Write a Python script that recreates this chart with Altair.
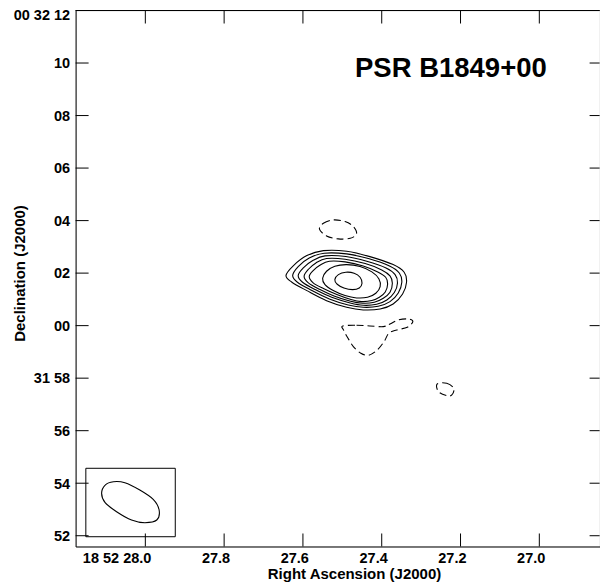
import altair as alt
import pandas as pd

# RA in seconds of 18h52m, Dec in arcsec relative to +00d32m00s
pos_ra = [
    [27.643, 27.624, 27.590, 27.548, 27.489, 27.430, 27.371, 27.343, 27.337, 27.347, 27.371, 27.404, 27.447, 27.489, 27.540, 27.590, 27.628],
    [27.626, 27.612, 27.584, 27.546, 27.489, 27.434, 27.379, 27.355, 27.349, 27.358, 27.379, 27.409, 27.447, 27.485, 27.533, 27.580, 27.614],
    [27.612, 27.599, 27.575, 27.544, 27.491, 27.438, 27.389, 27.366, 27.360, 27.368, 27.387, 27.413, 27.447, 27.480, 27.527, 27.569, 27.601],
    [27.597, 27.586, 27.567, 27.540, 27.493, 27.442, 27.400, 27.379, 27.373, 27.379, 27.396, 27.419, 27.448, 27.479, 27.521, 27.558, 27.587],
    [27.584, 27.574, 27.557, 27.533, 27.493, 27.447, 27.410, 27.390, 27.385, 27.391, 27.406, 27.425, 27.451, 27.478, 27.514, 27.548, 27.574],
    [27.550, 27.540, 27.519, 27.489, 27.455, 27.425, 27.407, 27.404, 27.415, 27.436, 27.464, 27.493, 27.523, 27.544],
    [27.519, 27.510, 27.491, 27.470, 27.455, 27.450, 27.457, 27.474, 27.496, 27.513],
]
pos_dec = [
    [1.905, 2.286, 2.667, 2.857, 2.834, 2.629, 2.324, 2.034, 1.653, 1.208, 0.827, 0.636, 0.598, 0.701, 0.952, 1.333, 1.653],
    [1.906, 2.249, 2.579, 2.757, 2.731, 2.554, 2.262, 1.995, 1.652, 1.246, 0.916, 0.738, 0.700, 0.789, 1.017, 1.360, 1.652],
    [1.906, 2.198, 2.477, 2.655, 2.630, 2.452, 2.198, 1.944, 1.627, 1.259, 0.979, 0.814, 0.776, 0.865, 1.080, 1.373, 1.652],
    [1.881, 2.147, 2.389, 2.554, 2.528, 2.363, 2.122, 1.893, 1.614, 1.271, 1.043, 0.890, 0.852, 0.928, 1.131, 1.385, 1.639],
    [1.868, 2.097, 2.300, 2.452, 2.427, 2.274, 2.046, 1.843, 1.589, 1.284, 1.080, 0.954, 0.916, 0.992, 1.182, 1.411, 1.627],
    [1.805, 2.071, 2.262, 2.325, 2.249, 2.046, 1.779, 1.487, 1.233, 1.080, 1.055, 1.144, 1.335, 1.563],
    [1.754, 1.944, 2.033, 1.995, 1.843, 1.614, 1.436, 1.373, 1.436, 1.576],
]
neg_ra = [
    [27.558, 27.548, 27.523, 27.493, 27.472, 27.464, 27.480, 27.510, 27.540],
    [27.499, 27.464, 27.430, 27.396, 27.379, 27.358, 27.332, 27.321, 27.335, 27.362, 27.382, 27.394, 27.413, 27.434, 27.453, 27.472, 27.487, 27.497],
    [27.259, 27.235, 27.217, 27.222, 27.235, 27.256],
]
neg_dec = [
    [3.671, 3.900, 4.027, 3.963, 3.773, 3.494, 3.328, 3.303, 3.417],
    [-0.011, 0.014, -0.011, -0.037, 0.065, 0.218, 0.256, 0.154, -0.062, -0.163, -0.290, -0.608, -0.951, -1.128, -1.052, -0.798, -0.443, -0.163],
    [-2.221, -2.194, -2.385, -2.640, -2.667, -2.514],
]
beam_ra = [28.111, 28.102, 28.081, 28.052, 28.014, 27.980, 27.965, 27.971, 28.001, 28.035, 28.073, 28.102]
beam_dec = [-6.386, -6.069, -5.942, -5.980, -6.259, -6.615, -7.021, -7.402, -7.503, -7.402, -7.084, -6.742]
box_ra = [28.151, 27.924]
box_dec = [-5.432, -8.038]

ra_ticks = [28.0, 27.8, 27.6, 27.4, 27.2, 27.0]
ra_labels = ["18 52 28.0", "27.8", "27.6", "27.4", "27.2", "27.0"]
dec_ticks = [12, 10, 8, 6, 4, 2, 0, -2, -4, -6, -8]
dec_labels = ["00 32 12", "10", "08", "06", "04", "02", "00", "31 58", "56", "54", "52"]
source_name = "PSR B1849+00"

W, H = 524, 536
FONT = "Liberation Sans"


def label_expr(vals, labs):
    expr = "''"
    for v, l in reversed(list(zip(vals, labs))):
        expr = f"(abs(datum.value - ({v})) < 0.001 ? '{l}' : {expr})"
    return expr


def contour_df(ras, decs, prefix):
    rows = []
    for i, (rr, dd) in enumerate(zip(ras, decs)):
        for j, (r, d) in enumerate(zip(rr, dd)):
            rows.append({"ra": r, "dec": d, "cid": f"{prefix}{i}", "k": j})
    return pd.DataFrame(rows)


pos_df = contour_df(pos_ra, pos_dec, "p")
neg_df = contour_df(neg_ra, neg_dec, "n")
beam_df = contour_df([beam_ra], [beam_dec], "b")
box_df = pd.DataFrame({"ra": [box_ra[0]], "ra2": [box_ra[1]], "dec": [box_dec[0]], "dec2": [box_dec[1]]})
rat_df = pd.DataFrame({"ra": ra_ticks})
dect_df = pd.DataFrame({"dec": dec_ticks})

x_axis = alt.Axis(
    values=ra_ticks, labelExpr=label_expr(ra_ticks, ra_labels), ticks=False, grid=False,
    domain=True, domainColor="black", domainWidth=1,
    labelFont=FONT, labelFontWeight="bold", labelFontSize=14.5, labelColor="black",
    labelAlign="right", labelOffset=5.5, labelPadding=5.5, labelFlush=False, labelOverlap=False, labelBound=False,
    title="Right Ascension (J2000)", titleFont=FONT, titleFontWeight="bold", titleFontSize=15,
    titleColor="black", titleX=278.4, titleY=32.5, titleAlign="center", titleBaseline="alphabetic",
)
y_axis = alt.Axis(
    values=dec_ticks, labelExpr=label_expr(dec_ticks, dec_labels), ticks=False, grid=False,
    domain=True, domainColor="black", domainWidth=1,
    labelFont=FONT, labelFontWeight="bold", labelFontSize=14.5, labelColor="black",
    labelPadding=6, labelFlush=False, labelOverlap=False, labelBound=False, labelBaseline="middle",
    labelOffset={"condition": {"test": "datum.value > 11", "value": 5.2}, "value": 0.8},
    title="Declination (J2000)", titleFont=FONT, titleFontWeight="bold", titleFontSize=15,
    titleColor="black", titleX=-50.6, titleY=262.5, titleAngle=270, titleAlign="center", titleBaseline="alphabetic",
)
xs = alt.Scale(domain=[26.847, 28.177], reverse=True, nice=False, zero=False)
ys = alt.Scale(domain=[-8.41, 12.0], nice=False, zero=False)
X = alt.X("ra:Q", scale=xs, axis=x_axis)
Y = alt.Y("dec:Q", scale=ys, axis=y_axis)

pos = alt.Chart(pos_df).mark_line(interpolate="cardinal-closed", color="black", strokeWidth=1.1).encode(
    x=X, y=Y, detail="cid:N", order="k:Q")
neg = alt.Chart(neg_df).mark_line(interpolate="cardinal-closed", color="black", strokeWidth=1.1,
                                  strokeDash=[7, 4]).encode(x=X, y=Y, detail="cid:N", order="k:Q")
beam = alt.Chart(beam_df).mark_line(interpolate="cardinal-closed", color="black", strokeWidth=1.1).encode(
    x=X, y=Y, detail="cid:N", order="k:Q")
box = alt.Chart(box_df).mark_rect(fillOpacity=0, stroke="black", strokeWidth=1).encode(
    x=X, x2="ra2:Q", y=Y, y2="dec2:Q")

tb = alt.Chart(rat_df).mark_rule(color="black", strokeWidth=1).encode(x=X, y=alt.value(H), y2=alt.value(H - 13))
tt = alt.Chart(rat_df).mark_rule(color="black", strokeWidth=1).encode(x=X, y=alt.value(0), y2=alt.value(13))
tl = alt.Chart(dect_df).mark_rule(color="black", strokeWidth=1).encode(y=Y, x=alt.value(0), x2=alt.value(13))
tr = alt.Chart(dect_df).mark_rule(color="black", strokeWidth=1).encode(y=Y, x=alt.value(W), x2=alt.value(W - 10))
top_line = alt.Chart(pd.DataFrame({"a": [0]})).mark_rule(color="black", strokeWidth=1).encode(
    x=alt.value(0), x2=alt.value(W), y=alt.value(0))
title = alt.Chart(pd.DataFrame({"t": [source_name]})).mark_text(
    font=FONT, fontWeight="bold", fontSize=27.5, align="left", baseline="alphabetic", color="black").encode(
    text="t:N", x=alt.value(279.4), y=alt.value(66.5))

chart = alt.layer(pos, neg, beam, box, tb, tt, tl, tr, top_line, title).properties(
    width=W, height=H,
    autosize=alt.AutoSizeParams(type="none"),
    padding={"left": 67.6, "top": 2.5, "right": 0, "bottom": 38},
).configure_view(stroke=None).configure(background="white")

chart.save("out.html", embed_options={"renderer": "svg", "actions": False})
